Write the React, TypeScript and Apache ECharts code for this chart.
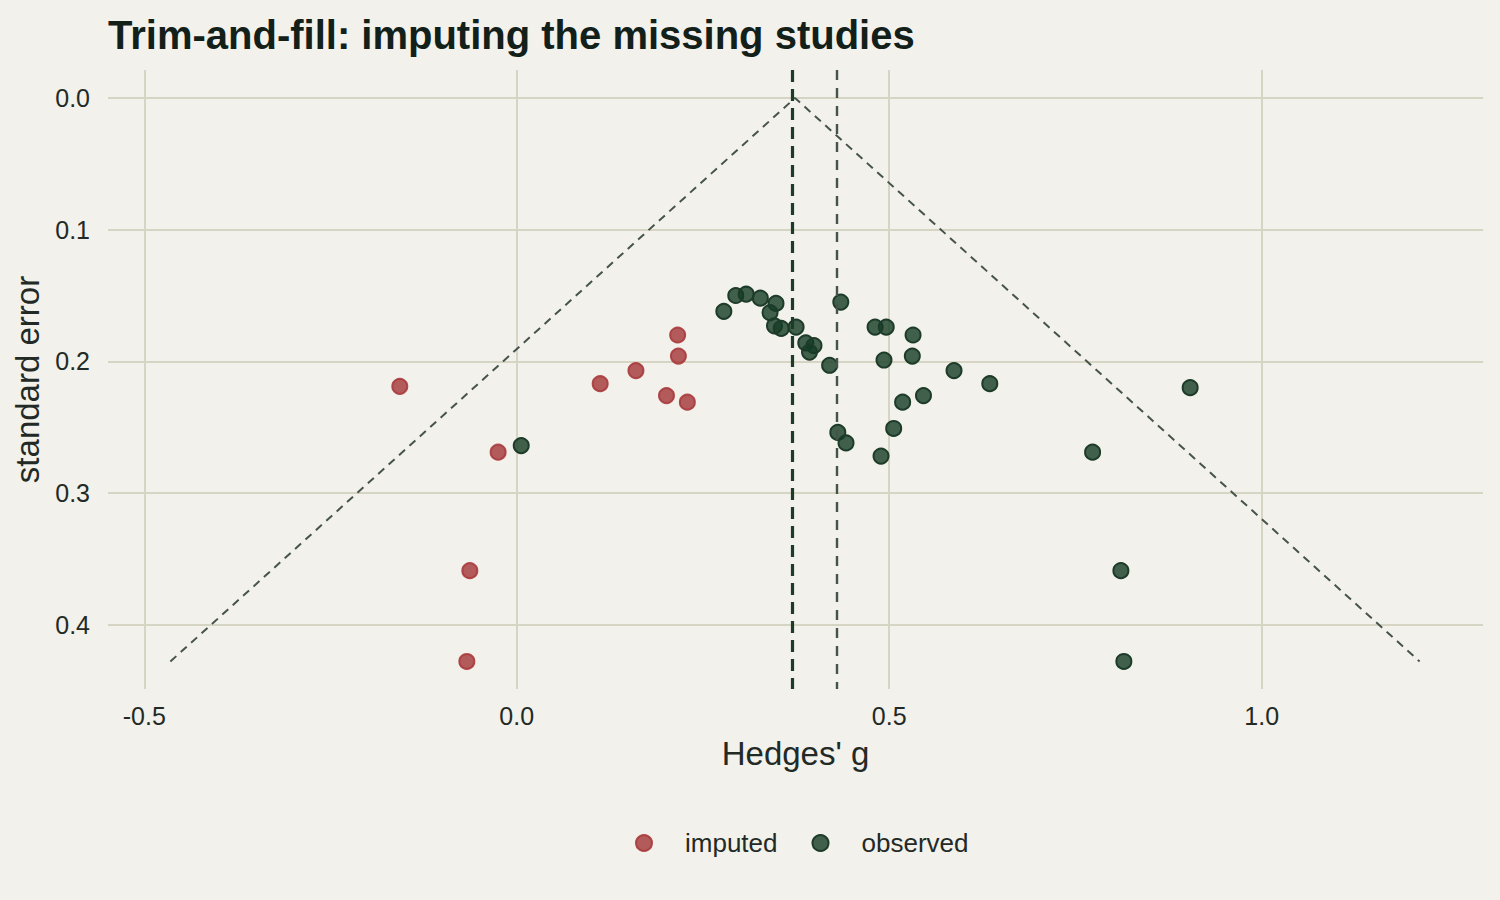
import React, { useEffect, useRef } from "react";
import * as echarts from "echarts";

// ---- data ----
const imputedG = [-0.157, -0.025, -0.063, -0.067, 0.112, 0.160, 0.216, 0.217, 0.201, 0.229];
const imputedSE = [0.219, 0.269, 0.359, 0.428, 0.217, 0.207, 0.180, 0.196, 0.226, 0.231];

const observedG = [
  0.006, 0.904, 0.773, 0.811, 0.815, 0.635,
  0.278, 0.294, 0.308, 0.327, 0.348, 0.340, 0.346, 0.355, 0.375,
  0.388, 0.399, 0.393, 0.420, 0.435, 0.481, 0.496, 0.532, 0.493,
  0.531, 0.587, 0.546, 0.518, 0.506, 0.431, 0.442, 0.489,
];
const observedSE = [
  0.264, 0.220, 0.269, 0.359, 0.428, 0.217,
  0.162, 0.150, 0.149, 0.152, 0.156, 0.163, 0.173, 0.175, 0.174,
  0.186, 0.188, 0.193, 0.203, 0.155, 0.174, 0.174, 0.180, 0.199,
  0.196, 0.207, 0.226, 0.231, 0.251, 0.254, 0.262, 0.272,
];

const funnelG = [-0.465, 0.3735, 1.212];
const funnelSE = [0.428, 0.0, 0.428];

const adjustedEstimate = 0.3735;
const originalEstimate = 0.430;

const xTicks = [-0.5, 0.0, 0.5, 1.0];
const yTicks = [0.0, 0.1, 0.2, 0.3, 0.4];

const TITLE = "Trim-and-fill: imputing the missing studies";
const X_NAME = "Hedges' g";
const Y_NAME = "standard error";

const FONT = "'Liberation Sans', Arial, Helvetica, sans-serif";
const BG = "#f2f1eb";
const GRID = "#d6d5c4";
const TEXT = "#232a26";

export default function App() {
  const ref = useRef<HTMLDivElement>(null);

  useEffect(() => {
    if (!ref.current) return;
    const chart = echarts.init(ref.current, undefined, { renderer: "svg" });

    const zip = (a: number[], b: number[]) => a.map((v, i) => [v, b[i]]);

    chart.setOption({
      animation: false,
      backgroundColor: BG,
      textStyle: { fontFamily: FONT },
      title: {
        text: TITLE,
        left: 103,
        top: 10,
        textStyle: { fontFamily: FONT, fontSize: 40, fontWeight: "bold", color: "#13201a" },
      },
      grid: { left: 108, right: 17, top: 70, bottom: 211, containLabel: false },
      xAxis: {
        type: "value",
        min: -0.5487,
        max: 1.2971,
        name: X_NAME,
        nameLocation: "middle",
        nameGap: 48,
        nameTextStyle: { fontFamily: FONT, fontSize: 33, color: TEXT },
        axisLine: { show: false },
        axisTick: { show: false, customValues: xTicks },
        axisLabel: {
          customValues: xTicks,
          formatter: (v: number) => v.toFixed(1),
          fontSize: 25,
          color: TEXT,
          margin: 14,
          fontFamily: FONT,
        },
        splitLine: { show: true, lineStyle: { color: GRID, width: 2 } },
      },
      yAxis: {
        type: "value",
        inverse: true,
        min: -0.0213,
        max: 0.4489,
        name: Y_NAME,
        nameLocation: "middle",
        nameGap: 62,
        nameTextStyle: { fontFamily: FONT, fontSize: 33, color: TEXT },
        axisLine: { show: false },
        axisTick: { show: false, customValues: yTicks },
        axisLabel: {
          customValues: yTicks,
          formatter: (v: number) => v.toFixed(1),
          fontSize: 25,
          color: TEXT,
          margin: 18,
          fontFamily: FONT,
        },
        splitLine: { show: true, lineStyle: { color: GRID, width: 2 } },
      },
      legend: {
        data: ["imputed", "observed"],
        left: 630,
        top: 825,
        icon: "circle",
        itemWidth: 16,
        itemHeight: 16,
        itemGap: 34,
        textStyle: { fontFamily: FONT, fontSize: 26, color: TEXT, padding: [0, 0, 0, 28], lineHeight: 26 },
      },
      series: [
        {
          name: "funnel",
          type: "line",
          data: zip(funnelG, funnelSE),
          symbol: "none",
          silent: true,
          z: 1,
          lineStyle: { color: "#46534b", width: 2, type: [8, 6] },
          markLine: {
            silent: true,
            symbol: "none",
            label: { show: false },
            data: [
              { xAxis: adjustedEstimate, lineStyle: { color: "#1d3b2a", width: 3.2, type: [12, 7] } },
              { xAxis: originalEstimate, lineStyle: { color: "#46534b", width: 2.4, type: [10, 8] } },
            ],
          },
        },
        {
          name: "imputed",
          type: "scatter",
          data: zip(imputedG, imputedSE),
          symbol: "circle",
          symbolSize: 15,
          z: 3,
          itemStyle: {
            opacity: 1,
            color: "rgba(163,53,55,0.8)",
            borderColor: "rgba(168,58,60,0.9)",
            borderWidth: 2,
          },
        },
        {
          name: "observed",
          type: "scatter",
          data: zip(observedG, observedSE),
          symbol: "circle",
          symbolSize: 15,
          z: 3,
          itemStyle: {
            opacity: 1,
            color: "rgba(20,60,36,0.8)",
            borderColor: "#1d3b29",
            borderWidth: 2,
          },
        },
      ],
    });

    return () => chart.dispose();
  }, []);

  return (
    <div
      ref={ref}
      style={{ position: "fixed", left: 0, top: 0, width: 1500, height: 900, background: BG }}
    />
  );
}
